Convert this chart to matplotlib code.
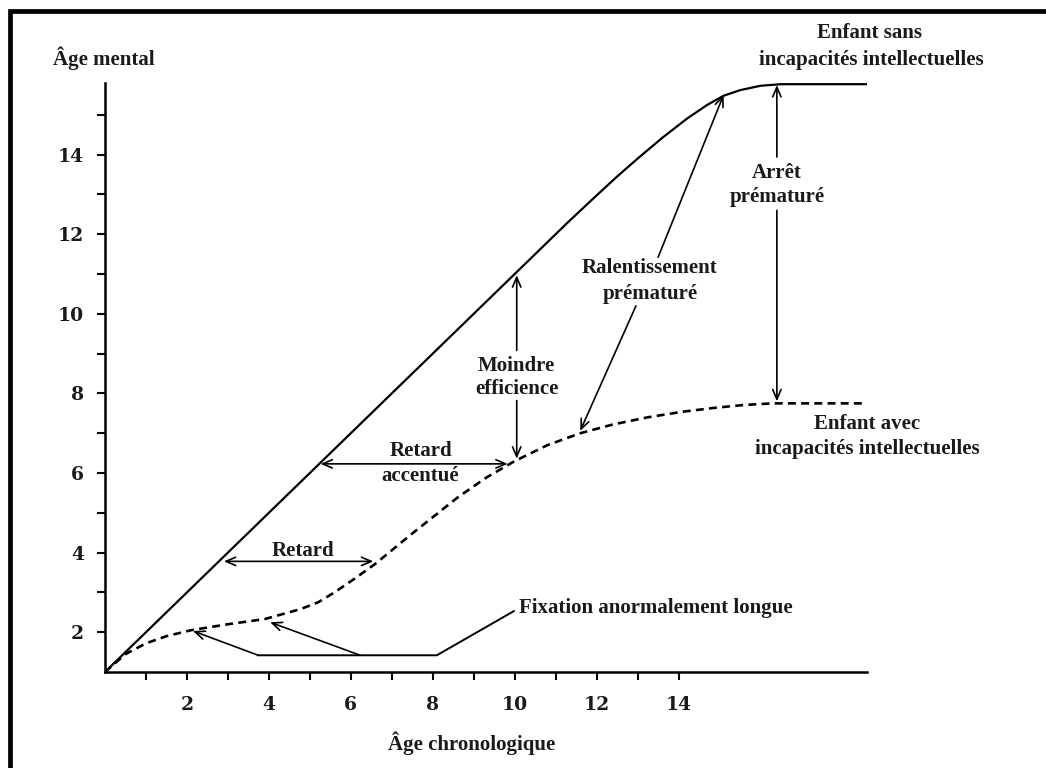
import matplotlib.pyplot as plt
from matplotlib.lines import Line2D

# Courbe de l'enfant sans incapacités intellectuelles
sans_x = [0, 11.3, 11.9, 12.5, 13.0, 13.6, 14.2, 14.7, 15.1, 15.5, 16.0, 16.5, 18.6]
sans_y = [1, 12.3, 12.88, 13.45, 13.9, 14.42, 14.9, 15.25, 15.48, 15.62, 15.73, 15.77, 15.77]

# Courbe de l'enfant avec incapacités intellectuelles (pointillés)
avec_x = [0, 0.5, 1.0, 1.5, 2.1, 3.0, 3.9, 4.77, 5.2, 5.6, 6.1, 6.6, 7.5, 8.6, 9.3,
          10.0, 10.8, 11.6, 12.4, 13.25, 14.1, 14.9, 15.6, 16.3, 18.6]
avec_y = [1, 1.45, 1.72, 1.9, 2.05, 2.2, 2.33, 2.58, 2.75, 3.0, 3.35, 3.72, 4.48, 5.38, 5.88,
          6.3, 6.7, 7.0, 7.22, 7.4, 7.54, 7.64, 7.71, 7.75, 7.75]

# Ligne "Fixation anormalement longue"
fix_x = [3.74, 8.1, 9.98]
fix_y = [1.42, 1.42, 2.53]

x_ticks = list(range(1, 15))
y_ticks = list(range(2, 16))

# flèches simples : (départ, pointe)
arrows = [
    ((3.74, 1.42), (2.15, 2.03)),
    ((6.23, 1.42), (4.03, 2.25)),
    ((10.05, 9.08), (10.05, 10.97)),
    ((10.05, 7.82), (10.05, 6.36)),
    ((13.5, 11.42), (15.1, 15.5)),
    ((12.96, 10.2), (11.6, 7.06)),
    ((16.4, 13.94), (16.4, 15.75)),
    ((16.4, 12.6), (16.4, 7.8)),
]
# flèches doubles
double_arrows = [
    ((2.9, 3.78), (6.55, 3.78)),
    ((5.26, 6.23), (9.83, 6.23)),
]

# textes : (x, y, texte, alignement)
labels = [
    (4.84, 4.04, "Retard", "center"),
    (7.7, 6.56, "Retard", "center"),
    (7.7, 5.93, "accentué", "center"),
    (10.05, 8.7, "Moindre", "center"),
    (10.05, 8.12, "efficience", "center"),
    (13.3, 11.14, "Ralentissement", "center"),
    (13.3, 10.5, "prématuré", "center"),
    (16.4, 13.54, "Arrêt", "center"),
    (16.4, 12.93, "prématuré", "center"),
    (18.65, 17.06, "Enfant sans", "center"),
    (18.7, 16.38, "incapacités intellectuelles", "center"),
    (18.6, 7.24, "Enfant avec", "center"),
    (18.6, 6.61, "incapacités intellectuelles", "center"),
    (10.1, 2.6, "Fixation anormalement longue", "left"),
    (-1.27, 16.43, "Âge mental", "left"),
    (6.9, -0.8, "Âge chronologique", "left"),
]

plt.rcParams['font.family'] = ['Liberation Serif', 'DejaVu Serif']

fig = plt.figure(figsize=(10.46, 7.68), dpi=100)
ax = fig.add_axes([105 / 1046, 1 - 672 / 768, 762 / 1046, 589 / 768])

ax.plot(sans_x, sans_y, color="black", lw=1.6)
ax.plot(avec_x, avec_y, color="black", lw=1.9, dashes=(3, 2))
ax.plot(fix_x, fix_y, color="black", lw=1.4)

style = "->,head_length=0.7,head_width=0.3"
for start, tip in arrows:
    ax.annotate("", xy=tip, xytext=start,
                arrowprops=dict(arrowstyle=style, lw=1.2, color="black",
                                shrinkA=0, shrinkB=0, mutation_scale=10))
for a, b in double_arrows:
    ax.annotate("", xy=b, xytext=a,
                arrowprops=dict(arrowstyle="<->,head_length=0.7,head_width=0.3", lw=1.2,
                                color="black", shrinkA=0, shrinkB=0, mutation_scale=10))

for x, y, txt, ha in labels:
    ax.text(x, y, txt, ha=ha, va="center", fontsize=15, fontweight="bold", color="#1a1a1a")

ax.set_xlim(0, 18.6)
ax.set_ylim(1, 15.8)
ax.set_xticks(x_ticks)
ax.set_xticklabels([str(v) if v % 2 == 0 else "" for v in x_ticks])
ax.set_yticks(y_ticks)
ax.set_yticklabels([str(v) if v % 2 == 0 else "" for v in y_ticks])
for lab in ax.get_xticklabels() + ax.get_yticklabels():
    lab.set_family("DejaVu Serif")
    lab.set_fontweight("bold")
    lab.set_color("#1a1a1a")
ax.tick_params(axis="x", length=6, width=1.5, pad=11, labelsize=13.5)
ax.tick_params(axis="y", length=6, width=1.5, pad=9, labelsize=13.5)
for s in ["top", "right"]:
    ax.spines[s].set_visible(False)
for s in ["left", "bottom"]:
    ax.spines[s].set_linewidth(1.8)

# cadre noir en haut et à gauche
fig.add_artist(Line2D([9.5 / 1046, 9.5 / 1046, 1], [0, 1 - 10.5 / 768, 1 - 10.5 / 768],
                      transform=fig.transFigure, color="black", lw=3.4,
                      solid_joinstyle="miter"))

fig.savefig("out.png", dpi=100)
